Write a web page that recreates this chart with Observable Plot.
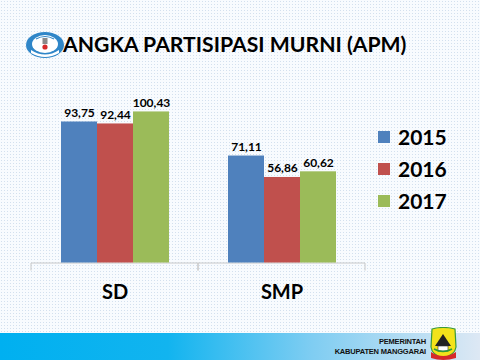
<!DOCTYPE html>
<html>
<head>
<meta charset="utf-8">
<script src="https://cdn.jsdelivr.net/npm/d3@7"></script>
<script src="https://cdn.jsdelivr.net/npm/@observablehq/plot@0.6"></script>
<style>
  html, body { margin: 0; padding: 0; }
  body {
    width: 480px; height: 360px; overflow: hidden; position: relative;
    background-color: #f8fbfe;
    background-image: radial-gradient(#d3e0ee 0.7px, transparent 0.9px);
    background-size: 3px 3px;
    font-family: Lato, "Open Sans", sans-serif;
  }
  #chart { position: absolute; left: 0; top: 0; }
  #title { position: absolute; left: 63px; top: 31px; font-size: 21.2px; font-weight: 700; color: #000; white-space: nowrap; }
  #logo { position: absolute; left: 25px; top: 31px; }
  #legend { position: absolute; left: 378px; top: 124px; }
  .li { position: relative; height: 32px; font-size: 21px; font-weight: 700; color: #000; }
  .sw { position: absolute; left: 0; top: 7px; width: 12px; height: 12px; }
  .lt { position: absolute; left: 20px; top: 0px; line-height: 26px; }
  #band { position: absolute; left: 0; top: 333px; width: 480px; height: 27px;
    background: linear-gradient(to right, #00b0f0 0%, #12b4ef 35%, #7fcdf2 65%, #dde8f4 100%); }
  #gov { position: absolute; right: 54px; top: 337px; text-align: right; font-family: "Liberation Sans Narrow", "Liberation Sans", sans-serif; font-size: 7.5px; font-weight: 700; color: #111; line-height: 10px; letter-spacing: -0.2px; }
  #emblem { position: absolute; left: 429px; top: 327px; }
</style>
</head>
<body>
<div id="band"></div>
<div id="gov">PEMERINTAH<br>KABUPATEN MANGGARAI</div>
<svg id="emblem" width="29" height="33" viewBox="0 0 29 33">
  <path d="M3 2 Q14 -1 26 2 L27 20 Q26 28 14 31 Q3 28 2 20 Z" fill="#f3e31a" stroke="#3a9a3a" stroke-width="1.2"/>
  <path d="M14 7 L22 19 L6 19 Z" fill="#222"/>
  <rect x="9" y="19" width="10" height="5" fill="#fff" stroke="#333" stroke-width="0.6"/>
  <path d="M2 25 Q14 33 27 25 L27 31 Q14 35 2 31 Z" fill="#d62a2a"/>
  <path d="M5 22 Q14 27 23 22" fill="none" stroke="#2f9a3a" stroke-width="1.5"/>
</svg>
<svg id="logo" width="40" height="28" viewBox="0 0 40 28">
  <ellipse cx="20" cy="14" rx="19" ry="13" fill="#2f86c8"/>
  <ellipse cx="20" cy="13" rx="13" ry="9" fill="#ffffff"/>
  <path d="M6 19 Q20 28 34 19 L34 22 Q20 30 6 22 Z" fill="#ffffff"/>
  <rect x="17.5" y="7" width="5" height="6" fill="#8a8a8a"/>
  <circle cx="20" cy="16" r="2.6" fill="#d62a2a"/>
  <path d="M11 8 Q20 3 29 8" fill="none" stroke="#2f86c8" stroke-width="1.2"/>
</svg>
<div id="title">ANGKA PARTISIPASI MURNI (APM)</div>
<div id="chart"></div>
<div id="legend"></div>
<script>
const categories = ["SD", "SMP"];
const years = ["2015", "2016", "2017"];
const values2015 = [93.75, 71.11];
const values2016 = [92.44, 56.86];
const values2017 = [100.43, 60.62];
const colors = ["#4f81bd", "#c0504d", "#9bbb59"];

const series = [values2015, values2016, values2017];
const data = [];
categories.forEach((c, i) => {
  years.forEach((y, j) => data.push({cat: c, year: y, value: series[j][i]}));
});
const fmt = v => v.toFixed(2).replace(".", ",");

const ruleWithTicks = Plot.ruleY([0], {
  stroke: "#c8c8c8",
  strokeWidth: 1,
  render: (index, scales, values, dimensions, context, next) => {
    const g = next(index, scales, values, dimensions, context);
    g.querySelectorAll("line").forEach(line => {
      const x1 = line.getAttribute("x1"), x2 = line.getAttribute("x2"), y = +line.getAttribute("y1");
      for (const x of [x1, x2]) {
        const t = document.createElementNS("http://www.w3.org/2000/svg", "line");
        t.setAttribute("x1", x); t.setAttribute("x2", x);
        t.setAttribute("y1", y); t.setAttribute("y2", y + 7.5);
        t.setAttribute("stroke", "#c8c8c8");
        line.parentNode.appendChild(t);
      }
    });
    return g;
  }
});

const chart = Plot.plot({
  width: 480,
  height: 333,
  marginLeft: 31,
  marginRight: 115,
  marginTop: 82,
  marginBottom: 70.5,
  style: {background: "transparent", fontFamily: "Lato, sans-serif"},
  fx: {domain: categories, padding: 0, label: null},
  x: {domain: years, paddingInner: 0, paddingOuter: 0.757, axis: null},
  y: {domain: [0, 120], axis: null},
  color: {domain: years, range: colors},
  marks: [
    ruleWithTicks,
    Plot.barY(data, {fx: "cat", x: "year", y: "value", fill: "year"}),
    Plot.text(data, {fx: "cat", x: "year", y: "value", text: d => fmt(d.value), dy: -5, lineAnchor: "bottom", fontWeight: "bold", fontSize: 12, fill: "#000"}),
    Plot.axisFx({anchor: "bottom", tickSize: 0, tickPadding: 22, fontSize: 20, fontWeight: "bold", label: null, color: "#000"})
  ]
});
document.getElementById("chart").appendChild(chart);

const legend = document.getElementById("legend");
years.forEach((y, i) => {
  const li = document.createElement("div");
  li.className = "li";
  li.innerHTML = `<div class="sw" style="background:${colors[i]}"></div><div class="lt">${y}</div>`;
  legend.appendChild(li);
});
</script>
</body>
</html>
